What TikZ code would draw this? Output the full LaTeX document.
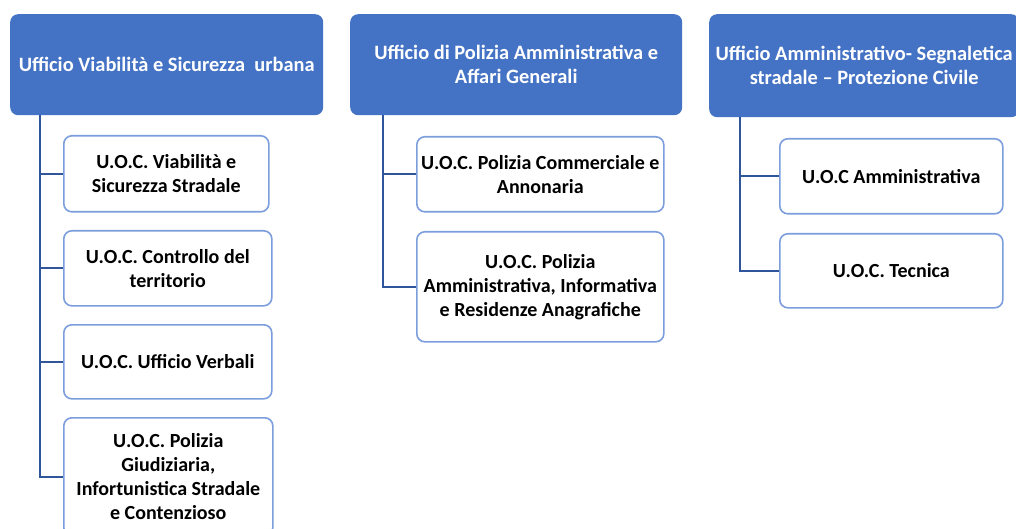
\documentclass[tikz,border=0pt]{standalone}
\usepackage{fontspec}
\setmainfont{Carlito}
\definecolor{hdr}{HTML}{4472C4}
\definecolor{cbord}{HTML}{7C9EDC}
\definecolor{conn}{HTML}{2F559B}
\begin{document}
\begin{tikzpicture}[x=1pt,y=-1pt,
  hbox/.style={draw=none,fill=hdr,rounded corners=8pt,text=white,font=\bfseries\fontsize{20.4}{24}\selectfont,align=center,anchor=north west,inner sep=0pt},
  cbox/.style={draw=cbord,line width=1.6pt,fill=white,rounded corners=8pt,text=black,font=\bfseries\fontsize{20}{24}\selectfont,align=center,anchor=north west,inner sep=0pt},
  link/.style={draw=conn,line width=2pt}]
\useasboundingbox (0,0) rectangle (1016,529);
\fill[white] (0,0) rectangle (1016,529);
% headers
\node[hbox,minimum width=313pt,minimum height=101pt] (ha) at (10,14) {Ufficio Viabilità e Sicurezza\ \ urbana};
\node[hbox,minimum width=332pt,minimum height=101pt] (hb) at (350,14) {Ufficio di Polizia Amministrativa e\\Affari Generali};
\node[hbox,minimum width=310pt,minimum height=103pt] (hc) at (709,14) {Ufficio Amministrativo- Segnaletica\\stradale -- Protezione Civile};
% left children
\node[cbox,minimum width=205pt,minimum height=76pt] (a1) at (63,135) {U.O.C. Viabilità e\\Sicurezza Stradale};
\node[cbox,minimum width=208pt,minimum height=75pt] (a2) at (63,230) {U.O.C. Controllo del\\territorio};
\node[cbox,minimum width=208pt,minimum height=74pt] (a3) at (63,324) {U.O.C. Ufficio Verbali};
\node[cbox,minimum width=209pt,minimum height=118pt] (a4) at (63,417) {U.O.C. Polizia\\Giudiziaria,\\Infortunistica Stradale\\e Contenzioso};
% middle children
\node[cbox,minimum width=247pt,minimum height=75pt] (b1) at (416,136) {U.O.C. Polizia Commerciale e\\Annonaria};
\node[cbox,minimum width=247pt,minimum height=110pt] (b2) at (416,231) {U.O.C. Polizia\\Amministrativa, Informativa\\e Residenze Anagrafiche};
% right children
\node[cbox,minimum width=223pt,minimum height=75pt] (c1) at (779,138) {U.O.C Amministrativa};
\node[cbox,minimum width=223pt,minimum height=74pt] (c2) at (779,233) {U.O.C. Tecnica};
% connectors
\coordinate (ta) at (40,115);
\coordinate (tb) at (383,115);
\coordinate (tc) at (740,117);
\foreach \n in {a1,a2,a3,a4}{\draw[link] (ta) |- (\n.west);}
\foreach \n in {b1,b2}{\draw[link] (tb) |- (\n.west);}
\foreach \n in {c1,c2}{\draw[link] (tc) |- (\n.west);}
\end{tikzpicture}
\end{document}
